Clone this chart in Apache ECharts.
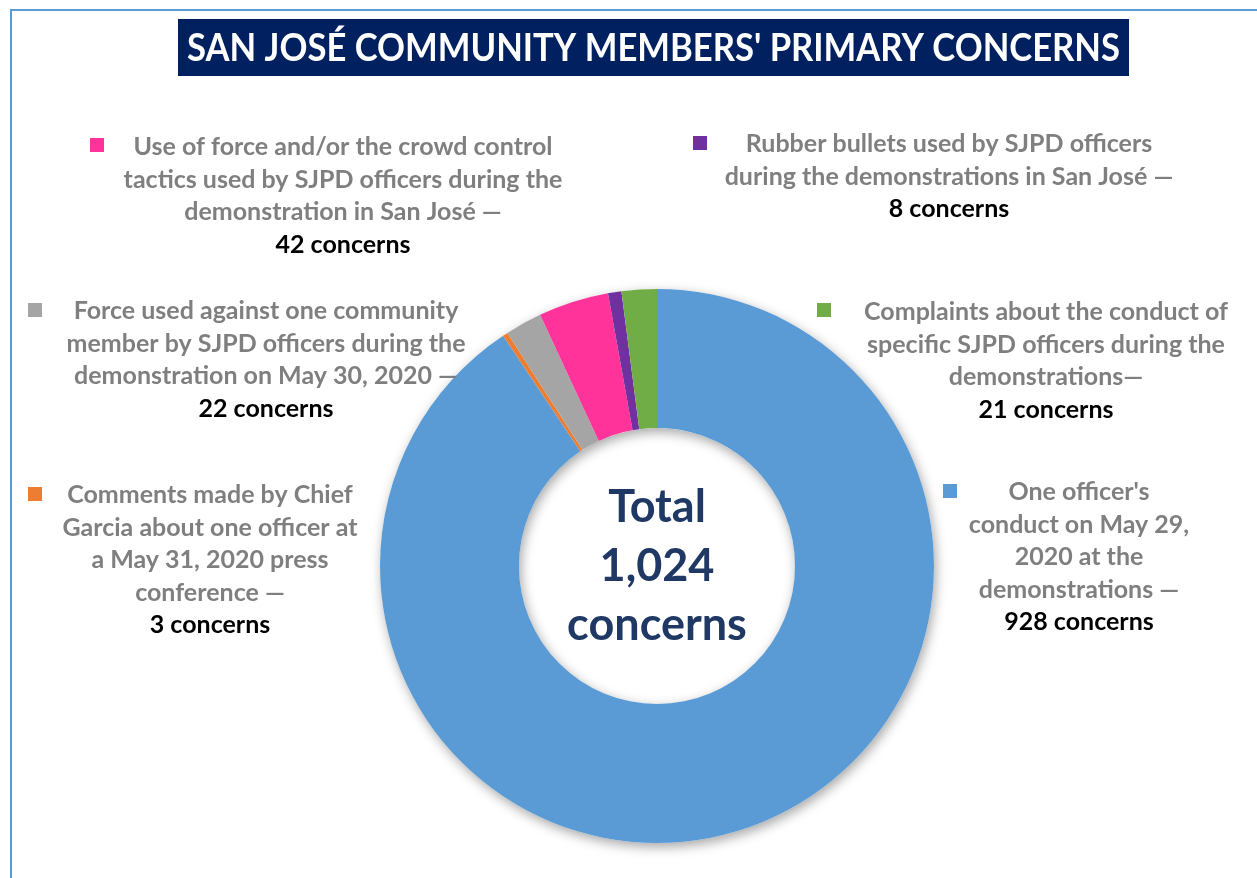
<!DOCTYPE html>
<html>
<head>
<meta charset="utf-8">
<script src="https://cdn.jsdelivr.net/npm/echarts@6/dist/echarts.min.js"></script>
<style>
html,body{margin:0;padding:0;background:#fff;}
#chart{width:1257px;height:878px;}
</style>
</head>
<body>
<div id="chart"></div>
<script>
const chartTitle = "SAN JOSÉ COMMUNITY MEMBERS' PRIMARY CONCERNS";
const categories = [
  "One officer's\nconduct on May 29,\n2020 at the\ndemonstrations —",
  "Comments made by Chief\nGarcia about one officer at\na May 31, 2020 press\nconference —",
  "Force used against one community\nmember by SJPD officers during the\ndemonstration on May 30, 2020 —",
  "Use of force and/or the crowd control\ntactics used by SJPD officers during the\ndemonstration in San José —",
  "Rubber bullets used by SJPD officers\nduring the demonstrations in San José —",
  "Complaints about the conduct of\nspecific SJPD officers during the\ndemonstrations—"
];
const values = [928, 3, 22, 42, 8, 21];
const unitLabel = "concerns";
const totalLabel = "Total";

// styling / layout
const colors = ['#5B9BD5', '#ED7D31', '#A5A5A5', '#FF3399', '#7030A0', '#70AD47'];
const labelPos = [[1079, 476], [210, 479], [266, 295], [343, 131], [949, 128], [1046, 296]];
const markerPos = [[943, 484], [28, 487], [28, 303], [90, 138], [693, 136], [817, 303]];
const FONT = 'Lato';
const TITLE_FONT = 'bold 38px ' + FONT;

const total = values.reduce((a, b) => a + b, 0);

// measure title for horizontal fit
const cv = document.createElement('canvas').getContext('2d');
cv.font = TITLE_FONT;
const titleW = cv.measureText(chartTitle).width;
const titleScale = Math.min(1, 933 / titleW);

const chart = echarts.init(document.getElementById('chart'), null, {renderer: 'canvas'});

const legends = categories.map((name, i) => ({
  data: [name],
  left: markerPos[i][0],
  top: markerPos[i][1],
  padding: 0,
  itemWidth: 14,
  itemHeight: 14,
  icon: 'rect',
  selectedMode: false,
  formatter: () => '',
  textStyle: {fontSize: 1}
}));

chart.setOption({
  animation: false,
  backgroundColor: '#ffffff',
  legend: legends,
  graphic: [
    {
      type: 'polyline',
      shape: {points: [[11, 878], [11, 10], [1257, 10]]},
      style: {stroke: '#5B9BD5', lineWidth: 2, fill: null},
      silent: true
    },
    {
      type: 'rect',
      shape: {x: 178, y: 19, width: 951, height: 57},
      style: {fill: '#002060'},
      silent: true
    },
    {
      type: 'text',
      x: 653.5,
      y: 49,
      scaleX: titleScale,
      style: {
        text: chartTitle,
        fill: '#ffffff',
        font: TITLE_FONT,
        textAlign: 'center',
        textVerticalAlign: 'middle'
      },
      silent: true
    },
    {
      type: 'text',
      x: 657,
      y: 566,
      style: {
        text: totalLabel + '\n' + total.toLocaleString('en-US') + '\n' + unitLabel,
        fill: '#1F3864',
        font: 'bold 45px ' + FONT,
        lineHeight: 59,
        textAlign: 'center',
        textVerticalAlign: 'middle'
      },
      silent: true,
      z: 10
    }
  ],
  series: [
    {
      type: 'pie',
      name: 'shadow',
      silent: true,
      center: [657, 566],
      radius: [138, 277],
      label: {show: false},
      labelLine: {show: false},
      itemStyle: {
        color: '#ffffff',
        shadowBlur: 12,
        shadowColor: 'rgba(0,0,0,0.35)',
        shadowOffsetX: 2,
        shadowOffsetY: 4
      },
      data: [{name: 'total', value: total}],
      z: 1
    },
    {
      type: 'pie',
      name: 'concerns',
      center: [657, 566],
      radius: [138, 277],
      startAngle: 90,
      clockwise: true,
      avoidLabelOverlap: false,
      silent: true,
      z: 2,
      itemStyle: {borderWidth: 0},
      label: {
        show: true,
        position: 'outside',
        formatter: p => '{t|' + p.name + '}\n{v|' + p.value + ' ' + unitLabel + '}',
        rich: {
          t: {fontFamily: FONT, fontWeight: 'bold', fontSize: 25, color: '#7F7F7F', lineHeight: 32.5, align: 'center'},
          v: {fontFamily: FONT, fontWeight: 'bold', fontSize: 25, color: '#000000', lineHeight: 32.5, align: 'center'}
        }
      },
      labelLine: {show: false},
      labelLayout: p => ({
        x: labelPos[p.dataIndex][0],
        y: labelPos[p.dataIndex][1],
        align: 'center',
        verticalAlign: 'top'
      }),
      data: categories.map((name, i) => ({
        name: name,
        value: values[i],
        itemStyle: {color: colors[i]}
      }))
    }
  ]
});
</script>
</body>
</html>
